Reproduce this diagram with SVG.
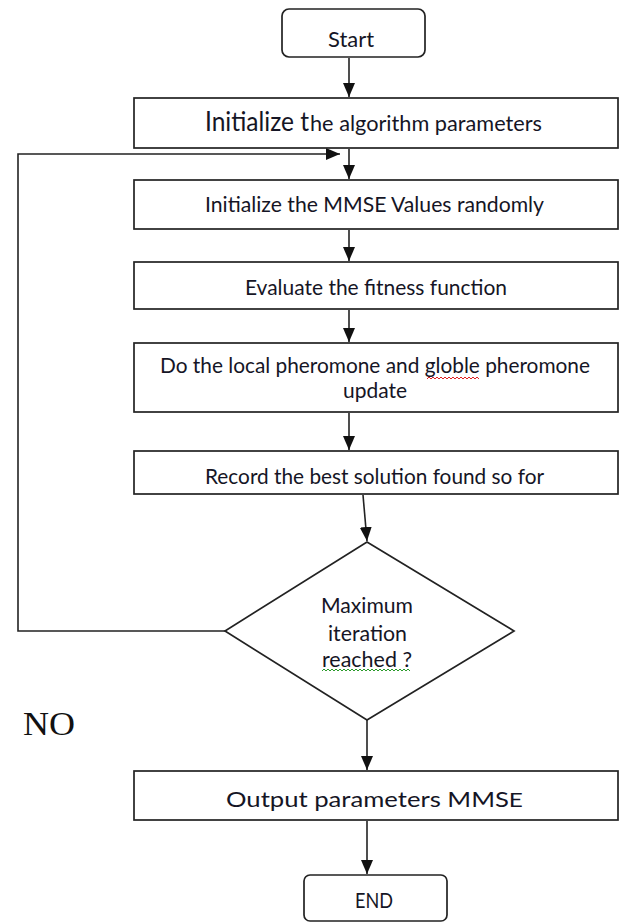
<svg xmlns="http://www.w3.org/2000/svg" width="621" height="923" viewBox="0 0 621 923">
  <style>
    .box { fill: #ffffff; stroke: #222; stroke-width: 1.7; }
    .edge { fill: none; stroke: #222; stroke-width: 1.6; }
    .t { font-family: Lato, "Open Sans", "Liberation Sans", sans-serif; font-size: 21px; fill: #151525; text-anchor: middle; }
    .no { font-family: "Liberation Serif", "Times New Roman", serif; font-size: 33px; fill: #111; }
    .sq { fill: none; stroke-width: 1; }
  </style>
  <defs>
    <marker id="arrow" markerUnits="userSpaceOnUse" viewBox="0 0 14 12" refX="14" refY="6" markerWidth="14" markerHeight="12" orient="auto">
      <path d="M0,0 L14,6 L0,12 z" fill="#111"/>
    </marker>
  </defs>
  <rect width="621" height="923" fill="#ffffff"/>

  <g id="connectors">
    <line class="edge" x1="349" y1="58" x2="349" y2="97" marker-end="url(#arrow)"/>
    <line class="edge" x1="349" y1="149" x2="349" y2="179" marker-end="url(#arrow)"/>
    <polyline class="edge" points="225,631 18,631 18,154 340,154" marker-end="url(#arrow)"/>
    <line class="edge" x1="349" y1="230" x2="349" y2="261" marker-end="url(#arrow)"/>
    <line class="edge" x1="349" y1="310" x2="349" y2="342" marker-end="url(#arrow)"/>
    <line class="edge" x1="349" y1="413" x2="349" y2="450" marker-end="url(#arrow)"/>
    <line class="edge" x1="363" y1="495" x2="367" y2="541" marker-end="url(#arrow)"/>
    <line class="edge" x1="367" y1="720" x2="367" y2="770" marker-end="url(#arrow)"/>
    <line class="edge" x1="367" y1="821" x2="367" y2="874" marker-end="url(#arrow)"/>
  </g>

  <g id="start">
    <rect class="box" x="282" y="9" width="143" height="48" rx="7"/>
    <text class="t" x="351" y="47" textLength="46" lengthAdjust="spacingAndGlyphs">Start</text>
  </g>

  <g id="init-params">
    <rect class="box" x="134" y="98" width="484" height="50"/>
    <text class="t" style="text-anchor:start" y="131"><tspan x="205" font-size="26" textLength="104" lengthAdjust="spacingAndGlyphs">Initialize t</tspan><tspan x="310" textLength="232" lengthAdjust="spacingAndGlyphs">he algorithm parameters</tspan></text>
  </g>

  <g id="init-mmse">
    <rect class="box" x="134" y="180" width="484" height="49"/>
    <text class="t" x="374.5" y="212" textLength="339" lengthAdjust="spacingAndGlyphs">Initialize the MMSE Values randomly</text>
  </g>

  <g id="evaluate">
    <rect class="box" x="134" y="262" width="484" height="47"/>
    <text class="t" x="376" y="295" textLength="262" lengthAdjust="spacingAndGlyphs">Evaluate the fitness function</text>
  </g>

  <g id="pheromone">
    <rect class="box" x="134" y="343" width="484" height="69"/>
    <text class="t" x="375" y="373" textLength="430" lengthAdjust="spacingAndGlyphs">Do the local pheromone and globle pheromone</text>
    <text class="t" x="375" y="398" textLength="64" lengthAdjust="spacingAndGlyphs">update</text>
    <path class="sq" stroke="#e02020" d="M427,379 l2,-2 l2,2 l2,-2 l2,2 l2,-2 l2,2 l2,-2 l2,2 l2,-2 l2,2 l2,-2 l2,2 l2,-2 l2,2 l2,-2 l2,2 l2,-2 l2,2 l2,-2 l2,2 l2,-2 l2,2 l2,-2 l2,2 l2,-2 l2,2"/>
  </g>

  <g id="record">
    <rect class="box" x="134" y="451" width="484" height="43"/>
    <text class="t" x="374.5" y="484" textLength="339" lengthAdjust="spacingAndGlyphs">Record the best solution found so for</text>
  </g>

  <g id="decision">
    <polygon class="box" points="367,542 514,631 367,720 225,631"/>
    <text class="t" x="367" y="613" textLength="92" lengthAdjust="spacingAndGlyphs">Maximum</text>
    <text class="t" x="367.5" y="641" textLength="79" lengthAdjust="spacingAndGlyphs">iteration</text>
    <text class="t" x="367" y="667" textLength="90" lengthAdjust="spacingAndGlyphs">reached ?</text>
    <path class="sq" stroke="#2a9a2a" d="M322,671 l2,-2 l2,2 l2,-2 l2,2 l2,-2 l2,2 l2,-2 l2,2 l2,-2 l2,2 l2,-2 l2,2 l2,-2 l2,2 l2,-2 l2,2 l2,-2 l2,2 l2,-2 l2,2 l2,-2 l2,2 l2,-2 l2,2 l2,-2 l2,2 l2,-2 l2,2 l2,-2 l2,2 l2,-2 l2,2 l2,-2 l2,2 l2,-2 l2,2 l2,-2 l2,2 l2,-2 l2,2 l2,-2 l2,2 l2,-2 l2,2"/>
  </g>

  <g id="no-label">
    <text class="no" x="23" y="735" textLength="52" lengthAdjust="spacingAndGlyphs">NO</text>
  </g>

  <g id="output">
    <rect class="box" x="134" y="771" width="484" height="49"/>
    <text class="t" x="374.5" y="807" font-size="25" textLength="297" lengthAdjust="spacingAndGlyphs">Output parameters MMS<tspan font-size="20">E</tspan></text>
  </g>

  <g id="end">
    <rect class="box" x="304" y="875" width="143" height="46" rx="6"/>
    <text class="t" x="374" y="908" textLength="38" lengthAdjust="spacingAndGlyphs">END</text>
  </g>
</svg>
